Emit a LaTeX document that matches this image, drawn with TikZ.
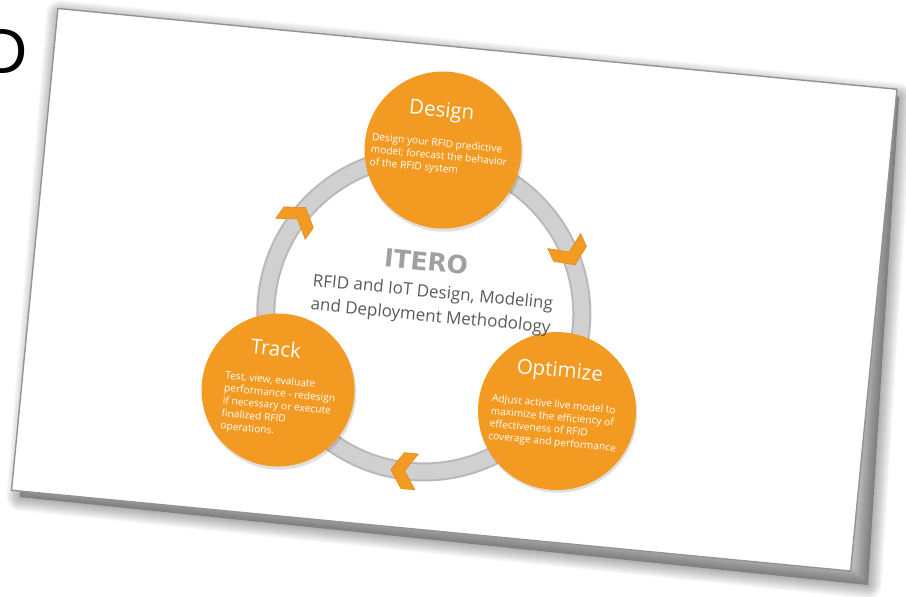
\documentclass[tikz,border=0pt]{standalone}
\usepackage{fontspec}
\setmainfont{Open Sans}
\newfontfamily\iterofont{DejaVu Sans}
\newfontfamily\markfont{Liberation Sans}
\usetikzlibrary{calc}
\definecolor{stageorange}{HTML}{F29A22}
\definecolor{stageedge}{HTML}{DE8A1A}
\definecolor{ringgray}{HTML}{D0D0D0}
\definecolor{ringedge}{HTML}{B8B8B8}
\definecolor{cardedge}{HTML}{939393}
\definecolor{subtext}{HTML}{5A5A5A}
\definecolor{logogray}{HTML}{A0A0A0}

\begin{document}
\begin{tikzpicture}[x=1pt,y=-1pt,
  stage/.style={circle, fill=stageorange, inner sep=0},
  stagetitle/.style={text=white, inner sep=0, font=\fontsize{20.5}{24}\selectfont},
  stagetext/.style={text=white, inner sep=0, anchor=north west, align=left,
    font=\fontsize{10.2}{12.6}\selectfont},
  chev/.pic={\fill[stageorange, draw=stageedge, line width=0.6]
    (-8,-18) -- (6,-18) -- (18,0) -- (6,18) -- (-8,18) -- (4,0) -- cycle;},
]
\useasboundingbox (0,0) rectangle (906,597);
\clip (0,0) rectangle (906,597);
\fill[white] (0,0) rectangle (906,597);

% large letter cut by the left edge
\node[anchor=north east, inner sep=0, font=\markfont\fontsize{64}{64}\selectfont] (mark) at (28,29) {D};

% soft shadow under the card
\foreach \w in {2,4,...,28}
  \draw[black, opacity=0.022, line width=\w, line join=round]
    (60,14) -- (899,97) -- (868,585) -- (20,497) -- cycle;
\fill[black, opacity=0.28] (60,14) -- (899,97) -- (868,585) -- (20,497) -- cycle;

\coordinate (cardc) at (454.25,289.75);
\begin{scope}[shift={(cardc)}, rotate=-5.5, transform shape]
  % card
  \filldraw[fill=white, draw=cardedge, line width=1.4] (-421.5,-242) rectangle (421.5,242);

  % cycle ring
  \coordinate (hub) at (-28,27);
  \draw[ringedge, line width=19] (hub) circle[radius=158];
  \draw[ringgray, line width=15] (hub) circle[radius=158];

  % direction marks on the ring
  \pic[rotate=-300] at ($(hub)+(210:158)$) {chev};
  \pic[rotate=-60]  at ($(hub)+(-30:158)$) {chev};
  \pic[rotate=-180] at ($(hub)+(90:158)$) {chev};

  % stage positions
  \coordinate (pD) at (-24.6,-138);
  \coordinate (pT) at (-165.8,116.7);
  \coordinate (pO) at (113.9,110.9);
  \foreach \p/\r in {pD/79, pT/77, pO/79}
    \fill[black, opacity=0.12] ($(\p)+(1.5,2.5)$) circle[radius=\r];

  \node[stage, minimum size=157] (design) at (pD) {};
  \node[stage, minimum size=153] (track) at (pT) {};
  \node[stage, minimum size=158] (optimize) at (pO) {};

  \node[stagetitle] (designT) at ($(design)+(-5,-38)$) {Design};
  \node[stagetext] (designD) at ($(design)+(-72,-11)$)
    {Design your RFID predictive\\model; forecast the behavior\\of the RFID system};

  \node[stagetitle] (trackT) at ($(track)+(-6,-41)$) {Track};
  \node[stagetext] (trackD) at ($(track)+(-54,-14)$)
    {Test, view, evaluate\\performance - redesign\\if necessary or execute\\finalized RFID\\operations.};

  \node[stagetitle] (optimizeT) at ($(optimize)+(-1,-39)$) {Optimize};
  \node[stagetext] (optimizeD) at ($(optimize)+(-66,-11)$)
    {Adjust active live model to\\maximize the efficiency of\\effectiveness of RFID\\coverage and performance};

  % centre label
  \node[inner sep=0, text=logogray, font=\iterofont\bfseries\fontsize{25}{25}\selectfont]
    (itero) at (-30.6,-25.2) {ITERO};
  \node[inner sep=0, align=center, text=subtext, font=\fontsize{17}{24}\selectfont]
    (method) at (-21,17.5) {RFID and IoT Design, Modeling\\and Deployment Methodology};
\end{scope}
\end{tikzpicture}
\end{document}
